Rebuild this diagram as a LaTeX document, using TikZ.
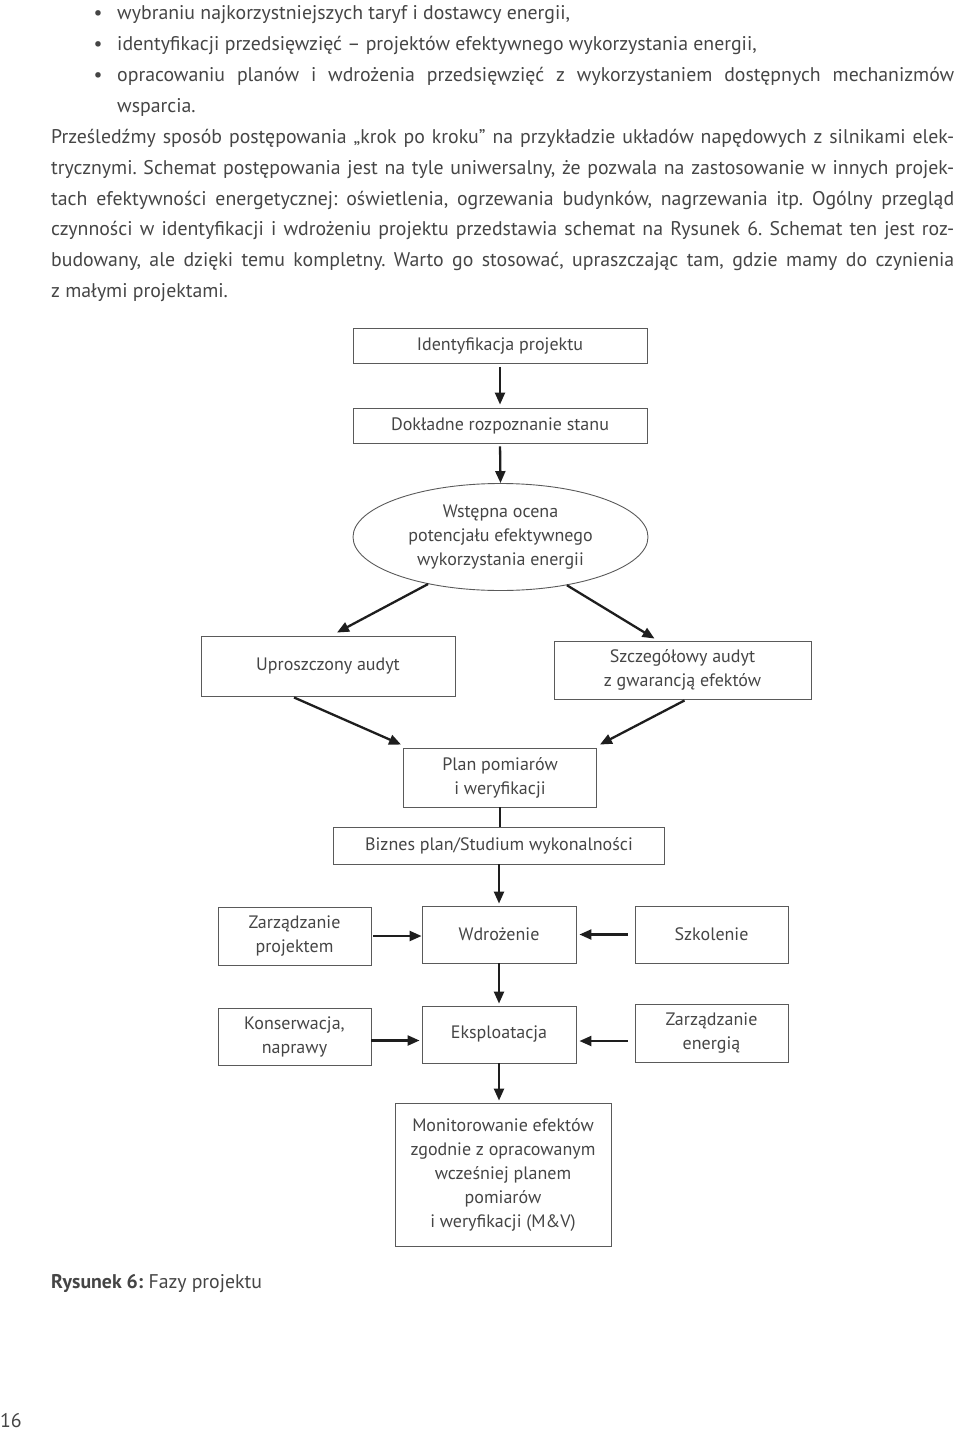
\documentclass[tikz,border=0pt]{standalone}
\usepackage{fontspec}
\setmainfont{PT Sans}
\usetikzlibrary{arrows.meta,shapes.geometric}
\definecolor{ink}{HTML}{454545}
\definecolor{frame}{HTML}{5A5A5A}
\definecolor{dart}{HTML}{1E1E1E}
\frenchspacing
\newcommand{\parafont}{\fontsize{19.8}{24}\selectfont}
\newcommand{\boxfont}{\fontsize{18}{24}\selectfont}
\newcommand{\pline}[4]{\node[txt] (#1) at (#2,{20+(#3-1)*30.85}) {#4};}
\tikzset{
  txt/.style={anchor=base west, inner sep=0pt, text=ink, font=\parafont},
  box/.style={draw=frame, line width=0.9pt, inner sep=0pt, align=center, text=ink, font=\boxfont},
  oval/.style={box, ellipse},
  arr/.style={draw=dart, line width=2.3pt, -{Triangle[length=12pt,width=10pt]}},
  link/.style={draw=dart, line width=2.3pt}
}
\begin{document}
\begin{tikzpicture}[x=1pt,y=-1pt]
  \useasboundingbox (0,0) rectangle (960,1431);

  \node[txt, anchor=base] (b1) at (98,20) {•};
  \node[txt, anchor=base] (b2) at (98,50.85) {•};
  \node[txt, anchor=base] (b3) at (98,81.7) {•};
  \pline{l1}{117}{1}{wybraniu najkorzystniejszych taryf i dostawcy energii,}
  \pline{l2}{117}{2}{identyfikacji przedsięwzięć – projektów efektywnego wykorzystania energii,}
  \pline{l3}{117}{3}{\makebox[837pt][s]{opracowaniu planów i wdrożenia przedsięwzięć z wykorzystaniem dostępnych mechanizmów}}
  \pline{l4}{117}{4}{wsparcia.}
  \pline{l5}{51}{5}{\makebox[903pt][s]{Prześledźmy sposób postępowania „krok po kroku” na przykładzie układów napędowych z silnikami elek-}}
  \pline{l6}{51}{6}{\makebox[903pt][s]{trycznymi. Schemat postępowania jest na tyle uniwersalny, że pozwala na zastosowanie w innych projek-}}
  \pline{l7}{51}{7}{\makebox[903pt][s]{tach efektywności energetycznej: oświetlenia, ogrzewania budynków, nagrzewania itp. Ogólny przegląd}}
  \pline{l8}{51}{8}{\makebox[903pt][s]{czynności w identyfikacji i wdrożeniu projektu przedstawia schemat na Rysunek 6. Schemat ten jest roz-}}
  \pline{l9}{51}{9}{\makebox[903pt][s]{budowany, ale dzięki temu kompletny. Warto go stosować, upraszczając tam, gdzie mamy do czynienia}}
  \pline{l10}{51}{10}{z małymi projektami.}

  \node[box, minimum width=294pt, minimum height=35pt] (ident) at (500,346) {Identyfikacja projektu};
  \node[box, minimum width=294pt, minimum height=35pt] (dok) at (500,425.5) {Dokładne rozpoznanie stanu};
  \node[oval, minimum width=295pt, minimum height=107pt] (ocena) at (500.5,537) {Wstępna ocena\\potencjału efektywnego\\wykorzystania energii};
  \node[box, minimum width=254pt, minimum height=60pt] (uproszcz) at (328,666) {Uproszczony audyt};
  \node[box, minimum width=257pt, minimum height=58pt] (szczeg) at (682.5,670) {Szczegółowy audyt\\z gwarancją efektów};
  \node[box, minimum width=193pt, minimum height=59pt] (plan) at (500,777.5) {Plan pomiarów\\i weryfikacji};
  \node[box, minimum width=331pt, minimum height=37pt] (biznes) at (499,845.5) {Biznes plan/Studium wykonalności};
  \node[box, minimum width=153pt, minimum height=58pt] (zproj) at (294.5,936) {Zarządzanie\\projektem};
  \node[box, minimum width=154pt, minimum height=57pt] (wdroz) at (499,934.5) {Wdrożenie};
  \node[box, minimum width=153pt, minimum height=57pt] (szkol) at (711.5,934.5) {Szkolenie};
  \node[box, minimum width=153pt, minimum height=57pt] (konserw) at (294.5,1036.5) {Konserwacja,\\naprawy};
  \node[box, minimum width=154pt, minimum height=57pt] (ekspl) at (499,1034.5) {Eksploatacja};
  \node[box, minimum width=153pt, minimum height=58pt] (zenerg) at (711.5,1033) {Zarządzanie\\energią};
  \node[box, minimum width=216pt, minimum height=143pt] (monit) at (503,1174.5) {Monitorowanie efektów\\zgodnie z opracowanym\\wcześniej planem\\pomiarów\\i weryfikacji (M\&V)};

  \node[txt] (podpis) at (51,1288) {\textbf{Rysunek 6:} Fazy projektu};
  \node[txt] (strona) at (0,1427) {16};

  \draw[arr, shorten <=3pt, shorten >=3pt] (ident.south) -- (dok.north);
  \draw[arr, shorten <=3pt] (dok.south) -- (ocena.north);
  \draw[arr] (ocena.213) -- ([xshift=9pt,yshift=3pt]uproszcz.north);
  \draw[arr] (ocena.-36) -- ([xshift=-28pt,yshift=2pt]szczeg.north);
  \draw[arr] ([xshift=-34pt,yshift=-1pt]uproszcz.south) -- ([xshift=-2pt,yshift=3pt]plan.north west);
  \draw[arr] ([xshift=2pt,yshift=-1pt]szczeg.south) -- ([xshift=3pt,yshift=3pt]plan.north east);
  \draw[link] (plan.south) -- (plan.south |- biznes.north);
  \draw[arr, shorten >=2pt] (biznes.south -| wdroz.north) -- (wdroz.north);
  \draw[arr, shorten <=2pt] (zproj.east) -- (zproj.east -| wdroz.west);
  \draw[arr, shorten <=7pt, shorten >=3pt] (szkol.west) -- (szkol.west -| wdroz.east);
  \draw[arr, shorten >=2pt] (wdroz.south) -- (ekspl.north);
  \draw[arr, shorten >=2pt] ([yshift=-4pt]konserw.east) -- ([yshift=-4pt]konserw.east -| ekspl.west);
  \draw[arr, shorten <=7pt, shorten >=3pt] ([yshift=-8pt]zenerg.west) -- ([yshift=-8pt]zenerg.west -| ekspl.east);
  \draw[arr, shorten >=2pt] (ekspl.south) -- (ekspl.south |- monit.north);
\end{tikzpicture}
\end{document}
